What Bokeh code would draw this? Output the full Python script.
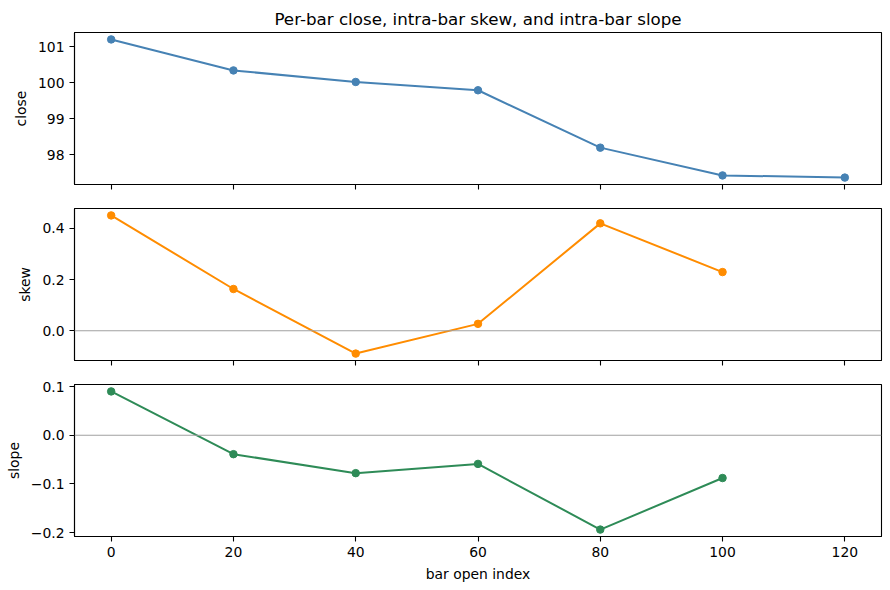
import math

from bokeh.embed import file_html
from bokeh.layouts import column
from bokeh.models import FixedTicker, Range1d, Span, ColumnDataSource
from bokeh.plotting import figure
from bokeh.resources import INLINE

# Per-bar series, indexed by the bar's opening sample
bar_open = [0, 20, 40, 60, 80, 100, 120]
close = [101.20, 100.34, 100.02, 99.79, 98.20, 97.43, 97.37]
skew = [0.450, 0.163, -0.089, 0.027, 0.419, 0.229, float("nan")]
slope = [0.090, -0.039, -0.078, -0.059, -0.194, -0.088, float("nan")]

x_ticks = [0, 20, 40, 60, 80, 100, 120]
close_ticks = [98, 99, 100, 101]
skew_ticks = [0.0, 0.2, 0.4]
slope_ticks = [-0.2, -0.1, 0.0, 0.1]

FONT = "DejaVu Sans"
W = 890
LEFT, RIGHT = 74, 9


def padded(vals, frac=0.05):
    v = [a for a in vals if not math.isnan(a)]
    lo, hi = min(v), max(v)
    pad = (hi - lo) * frac
    return lo - pad, hi + pad


def fmt(t, digits):
    s = f"{t:.{digits}f}"
    return s.replace("-", "\u2212")


x_lo, x_hi = padded(bar_open)
x_range = Range1d(x_lo, x_hi)


def panel(height, top, bottom, ys, color, label, ticks, digits, show_x, zero_line):
    p = figure(width=W, height=height, x_range=x_range,
               y_range=Range1d(*padded(ys)),
               output_backend="svg", toolbar_location=None,
               min_border_left=LEFT, min_border_right=RIGHT,
               min_border_top=top, min_border_bottom=bottom)
    p.grid.visible = False
    p.outline_line_color = "black"
    p.outline_line_width = 1.1
    p.background_fill_color = "white"
    p.border_fill_color = "white"

    if zero_line:
        p.add_layout(Span(location=0, dimension="width", line_color="#a0a0a0",
                          line_width=1.1))

    src = ColumnDataSource(dict(x=bar_open, y=ys))
    p.line("x", "y", source=src, line_color=color, line_width=2)
    p.scatter("x", "y", source=src, size=7.5, fill_color=color, line_color=color)

    for ax in (p.xaxis[0], p.yaxis[0]):
        ax.axis_line_color = "black"
        ax.axis_line_width = 1.1
        ax.major_tick_line_color = "black"
        ax.major_tick_line_width = 1.1
        ax.major_tick_out = 5
        ax.major_tick_in = 0
        ax.minor_tick_line_color = None
        ax.major_label_text_font = FONT
        ax.major_label_text_font_size = "13.9px"
        ax.major_label_text_color = "black"
        ax.major_label_standoff = 5
        ax.axis_label_text_font = FONT
        ax.axis_label_text_font_size = "13.9px"
        ax.axis_label_text_font_style = "normal"
        ax.axis_label_text_color = "black"
        ax.axis_label_standoff = 6

    p.xaxis.ticker = FixedTicker(ticks=x_ticks)
    if show_x:
        p.xaxis.axis_label = "bar open index"
        p.xaxis.major_label_overrides = {t: str(t) for t in x_ticks}
    else:
        # shared x axis: tick marks only, labels live on the bottom panel
        p.xaxis.major_label_overrides = {t: "" for t in x_ticks}
        p.xaxis.major_label_standoff = 0

    p.yaxis.ticker = FixedTicker(ticks=ticks)
    p.yaxis.major_label_overrides = {t: fmt(t, digits) for t in ticks}
    p.yaxis.axis_label = label
    return p


p1 = panel(196, 32, 12, close, "#4682b4", "close", close_ticks, 0, False, False)
p1.title.text = "Per-bar close, intra-bar skew, and intra-bar slope"
p1.title.align = "center"
p1.title.text_font = FONT
p1.title.text_font_size = "16.7px"
p1.title.text_font_style = "normal"
p1.title.text_color = "black"
p1.title.standoff = 8

p2 = panel(176, 12, 12, skew, "#ff8c00", "skew", skew_ticks, 1, False, True)
p3 = panel(218, 12, 54, slope, "#2e8b57", "slope", slope_ticks, 1, True, True)

layout = column(p1, p2, p3, spacing=0)

with open("out.html", "w") as f:
    f.write(file_html(layout, INLINE))
